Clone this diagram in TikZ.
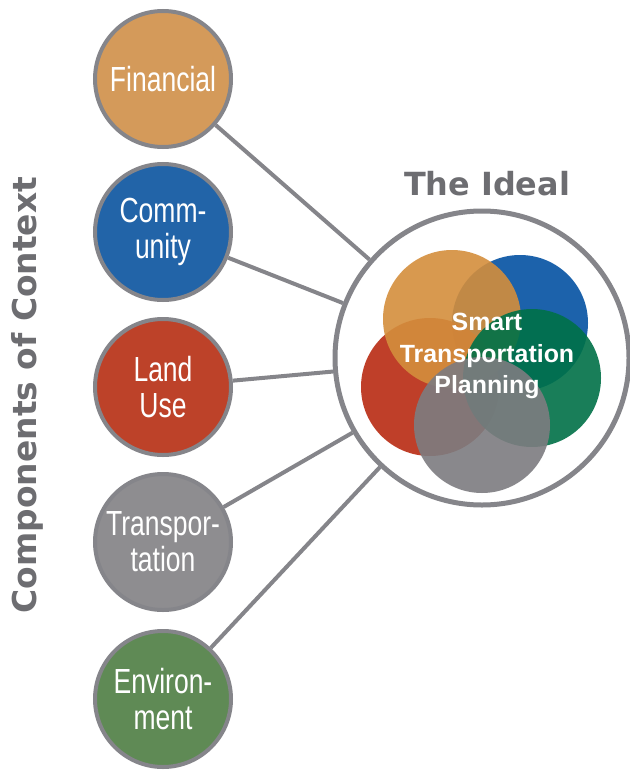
\documentclass[tikz,border=0pt]{standalone}
\usepackage{fontspec}
\setmainfont{Liberation Sans}
\newfontfamily\narrowfont[FakeStretch=0.76]{Liberation Sans}
\newfontfamily\heavyfont{DejaVu Sans}

\definecolor{finorange}{HTML}{D49A5A}
\definecolor{comblue}{HTML}{2264A8}
\definecolor{landred}{HTML}{BD4229}
\definecolor{transgray}{HTML}{8E8D90}
\definecolor{envgreen}{HTML}{5F8A55}
\definecolor{ringgray}{HTML}{85858A}
\definecolor{titlegray}{HTML}{6D6D71}
\definecolor{blobblue}{RGB}{4,81,162}
\definecolor{blobgreen}{RGB}{0,113,72}
\definecolor{bloborange}{RGB}{212,142,60}
\definecolor{blobred}{RGB}{185,43,18}
\definecolor{blobgray}{RGB}{125,124,128}

\begin{document}
\begin{tikzpicture}[x=1bp, y=-1bp,
	part/.style={circle, draw=ringgray, line width=4bp, fill=#1, minimum size=136bp,
		inner sep=0pt, text=white, align=center,
		font=\narrowfont\fontsize{35}{36}\selectfont},
	link/.style={draw=ringgray, line width=4bp},
	blob/.style={fill=#1, fill opacity=0.9}]
	\useasboundingbox (0,0) rectangle (630,777);
	\node[rotate=90, text=titlegray, font=\heavyfont\bfseries\fontsize{33}{36}\selectfont] (side) at (27,395) {Components of Context};
	\node[text=titlegray, font=\heavyfont\bfseries\fontsize{32}{36}\selectfont] (title) at (487,184) {The Ideal};
	\node[circle, draw=ringgray, line width=5bp, fill=white, minimum size=294bp] (ideal) at (482,358) {};
	\foreach \name/\y/\col/\txt in {fin/79/finorange/Financial, com/232/comblue/Comm-\\unity,
		land/387/landred/Land\\Use, trans/542/transgray/Transpor-\\tation, env/699/envgreen/Environ-\\ment}{
		\node[part=\col] (\name) at (163,\y) {\txt};
		\draw[link] (\name) -- (ideal);
	}
	\fill[blob=blobblue] (520,323) circle (68);
	\fill[blob=blobred] (430,387) circle (69);
	\fill[blob=bloborange] (452,319) circle (69);
	\fill[blob=blobgreen] (532,378) circle (69);
	\fill[blob=blobgray] (482,425) circle (68);
	\node[text=white, align=center, font=\bfseries\fontsize{25}{32}\selectfont] (stp) at (487,356) {Smart\\Transportation\\Planning};
\end{tikzpicture}
\end{document}
